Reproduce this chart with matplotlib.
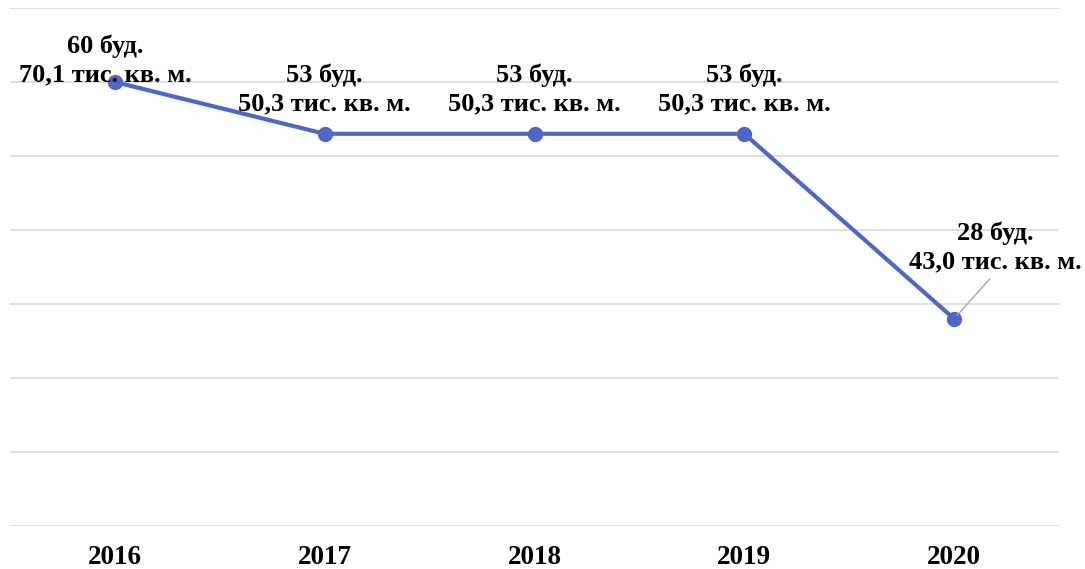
import matplotlib.pyplot as plt

# Data
years = ['2016', '2017', '2018', '2019', '2020']
buildings = [60, 53, 53, 53, 28]
area = [70.1, 50.3, 50.3, 50.3, 43.0]

plt.rcParams['font.family'] = ['Liberation Serif', 'DejaVu Serif']

fig = plt.figure(figsize=(10.85, 5.69), dpi=100)
ax = fig.add_axes([10 / 1085, 43 / 569, 1049 / 1085, 518 / 569])

x = range(len(years))
ax.plot(x, buildings, '-o', color='#4f67c8', lw=3, ms=10, zorder=3)

ax.set_xlim(-0.5, len(years) - 0.5)
ax.set_ylim(0, 70)
ax.set_yticks(range(0, 71, 10))
ax.yaxis.grid(True, color='#d9d9d9', lw=1.2)
ax.set_axisbelow(True)
ax.tick_params(left=False, labelleft=False, bottom=False)
for s in ax.spines.values():
    s.set_visible(False)
ax.set_xticks(list(x))
ax.set_xticklabels(years, fontsize=19.5, fontweight='bold')
ax.tick_params(axis='x', pad=10)

# data labels
fs = 19
for i, (b, a) in enumerate(zip(buildings, area)):
    a_str = f'{a:.1f}'.replace('.', ',')
    txt = f'{b} буд.\n{a_str} тис. кв. м.'
    if i == len(years) - 1:
        ax.annotate(txt, (i, b), xytext=(29.5, 33), textcoords='offset points',
                    ha='center', va='bottom', fontsize=fs, fontweight='bold',
                    linespacing=1.3,
                    arrowprops=dict(arrowstyle='-', color='#a6a6a6', lw=1,
                                    relpos=(0.5, 0), shrinkA=3, shrinkB=3))
    elif i == 0:
        ax.annotate(txt, (i, b), xytext=(-7, -3),
                    textcoords='offset points', ha='center', va='bottom',
                    fontsize=fs, fontweight='bold', linespacing=1.3)
    else:
        ax.annotate(txt, (i, b), xytext=(0, 13),
                    textcoords='offset points', ha='center', va='bottom',
                    fontsize=fs, fontweight='bold', linespacing=1.3)

fig.savefig('out.png', dpi=100)
